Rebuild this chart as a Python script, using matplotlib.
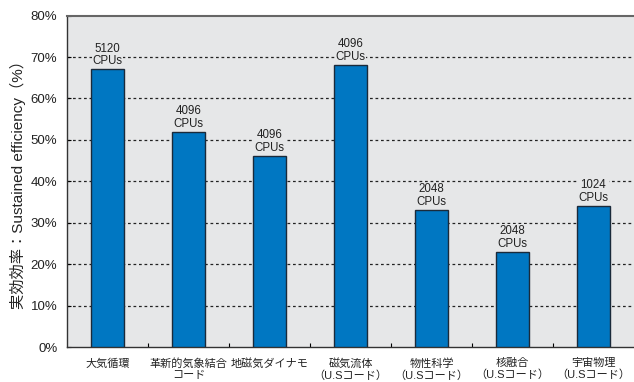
import numpy as np
import matplotlib.pyplot as plt

plt.rcParams['font.family'] = ['Liberation Sans', 'Noto Sans CJK JP', 'DejaVu Sans']

categories = ['大気循環', '革新的気象結合\nコード', '地磁気ダイナモ', '磁気流体\n（U.Sコード）',
              '物性科学\n（U.Sコード）', '核融合\n（U.Sコード）', '宇宙物理\n（U.Sコード）']
efficiency = [67, 52, 46, 68, 33, 23, 34]
cpus = [5120, 4096, 4096, 4096, 2048, 2048, 1024]
yticks = [0, 10, 20, 30, 40, 50, 60, 70, 80]


def main():
    fig = plt.figure(figsize=(6.34, 3.82), dpi=100)
    ax = fig.add_axes([0.1057, 0.0916, 0.8943, 0.8675])
    ax.set_facecolor('#e6e7e8')

    x = np.arange(len(categories))
    ax.set_xlim(-0.5, len(categories) - 0.5)
    ax.set_ylim(0, 80)

    for y in yticks[1:-1]:
        ax.axhline(y, color='#222222', linestyle=(0, (2.2, 2.2)), linewidth=0.9, zorder=1)

    ax.bar(x, efficiency, width=0.4, color='#0077c2', edgecolor='#1a2a3a',
           linewidth=1.0, zorder=3)

    for xi, v, c in zip(x, efficiency, cpus):
        ax.text(xi, v + 0.5, '%d\nCPUs' % c, ha='center', va='bottom', fontsize=8.3,
                color='#222222', linespacing=1.1, zorder=4,
                bbox=dict(facecolor='#e6e7e8', edgecolor='none', pad=0.6))

    ax.set_yticks(yticks)
    ax.set_yticklabels(['%d%%' % y for y in yticks], fontsize=9.5, color='#222222')
    ax.tick_params(axis='y', direction='in', length=3, width=0.8, pad=7)

    ax.set_xticks(x)
    ax.set_xticklabels(categories, fontsize=8, color='#222222', linespacing=1.15)
    ax.tick_params(axis='x', length=0, pad=8)
    ax.set_xticks(x[:-1] + 0.5, minor=True)
    ax.tick_params(axis='x', which='minor', direction='in', length=3, width=0.8)

    ax.set_ylabel('実効効率：Sustained efficiency（%）', fontsize=11, color='#222222',
                  labelpad=3)

    ax.spines['right'].set_visible(False)
    ax.spines['top'].set_color('#666666')
    ax.spines['top'].set_linewidth(1.5)
    ax.spines['left'].set_color('#333333')
    ax.spines['bottom'].set_color('#333333')
    ax.spines['left'].set_linewidth(1.0)
    ax.spines['bottom'].set_linewidth(1.0)

    plt.savefig('out.png', dpi=100)


if __name__ == '__main__':
    main()
